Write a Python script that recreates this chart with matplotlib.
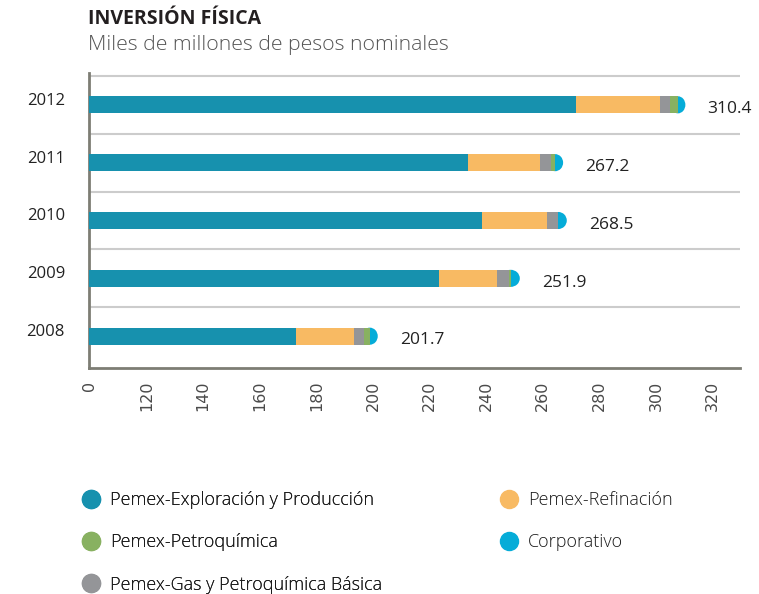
import numpy as np
import matplotlib.pyplot as plt
import matplotlib.transforms as mtransforms
from matplotlib.patches import Ellipse
from matplotlib.lines import Line2D

years = ['2008', '2009', '2010', '2011', '2012']
totals = [201.7, 251.9, 268.5, 267.2, 310.4]
exploracion = [172.9, 223.4, 238.5, 233.7, 271.7]
refinacion = [20.4, 20.4, 22.9, 25.4, 29.9]
gas = [3.5, 4.2, 3.9, 3.9, 3.5]
petroquimica = [2.1, 0.7, 0.2, 1.4, 2.7]
corporativo = [2.8, 3.2, 3.0, 2.8, 2.6]

x_ticks = [100, 120, 140, 160, 180, 200, 220, 240, 260, 280, 300, 320]
x_tick_labels = ['0', '120', '140', '160', '180', '200', '220', '240', '260', '280', '300', '320']

c_exp = '#1791ae'
c_ref = '#f8ba63'
c_gas = '#949598'
c_pet = '#88b161'
c_cor = '#05acd8'

plt.rcParams['font.family'] = ['Open Sans', 'DejaVu Sans']

fig = plt.figure(figsize=(7.59, 5.94), dpi=100)
ax = fig.add_axes([88.5 / 759, 1 - 368 / 594, (740 - 88.5) / 759, (368 - 73) / 594])

y = np.arange(len(years))
h = 0.295

ax.barh(y, exploracion, height=h, color=c_exp, zorder=3)
left = np.array(exploracion)
ax.barh(y, refinacion, left=left, height=h, color=c_ref, zorder=3)
left = left + np.array(refinacion)
ax.barh(y, gas, left=left, height=h, color=c_gas, zorder=3)
left = left + np.array(gas)
ax.barh(y, petroquimica, left=left, height=h, color=c_pet, zorder=3)
left = left + np.array(petroquimica)

# corporativo drawn as a rounded cap at the end of each bar
for yi, l, c in zip(y, left, corporativo):
    ax.add_patch(Ellipse((l, yi), 2 * c, h, color=c_cor, zorder=2, lw=0))

for yi, t in zip(y, totals):
    ax.annotate(f'{t:.1f}', (t, yi), xytext=(16, -3), textcoords='offset points',
                ha='left', va='center', fontsize=12.5, color='#222222')

ax.set_xlim(99.5, 329.7)
ax.set_ylim(-0.55, 4.55)

ax.set_xticks(x_ticks)
ax.set_xticklabels(x_tick_labels, rotation=90, fontsize=11.5, color='#4a4a4a',
                   family='DejaVu Sans', va='top')
ax.tick_params(axis='x', length=0, pad=9)

ax.set_yticks(y)
ax.set_yticklabels(years, fontsize=12, color='#222222')
ax.tick_params(axis='y', length=0, pad=17)
shift = mtransforms.ScaledTranslation(0, 6 / 100, fig.dpi_scale_trans)
for lab in ax.get_yticklabels():
    lab.set_transform(lab.get_transform() + shift)

ax.set_yticks(y + 0.5, minor=True)
ax.tick_params(axis='y', which='minor', length=0)
ax.grid(axis='y', which='minor', color='#cccccc', lw=1.5, zorder=0)

for s in ['top', 'right']:
    ax.spines[s].set_visible(False)
for s in ['left', 'bottom']:
    ax.spines[s].set_color('#7d7d74')
    ax.spines[s].set_linewidth(2)

fig.text(88 / 759, 1 - 19 / 594, 'INVERSIÓN FÍSICA', fontsize=14, fontweight='bold',
         color='#231f20', va='center', ha='left')
fig.text(88 / 759, 1 - 45 / 594, 'Miles de millones de pesos nominales', fontsize=15.3,
         color='#555555', va='center', ha='left', fontweight='light')

def handle(c):
    return Line2D([], [], marker='o', ls='', markersize=13, markerfacecolor=c,
                  markeredgecolor=c)

leg_font = {'size': 13, 'weight': 'light'}
leg1 = fig.legend([handle(c_exp), handle(c_pet), handle(c_gas)],
                  ['Pemex-Exploración y Producción', 'Pemex-Petroquímica',
                   'Pemex-Gas y Petroquímica Básica'],
                  loc='upper left', bbox_to_anchor=(80 / 759, 1 - 491 / 594),
                  frameon=False, prop=leg_font, labelspacing=1.35, handletextpad=0.45,
                  handlelength=1.2, borderaxespad=0, borderpad=0, labelcolor='#1a1a1a')
fig.add_artist(leg1)
fig.legend([handle(c_ref), handle(c_cor)], ['Pemex-Refinación', 'Corporativo'],
           loc='upper left', bbox_to_anchor=(498 / 759, 1 - 491 / 594),
           frameon=False, prop=leg_font, labelspacing=1.35, handletextpad=0.45,
           handlelength=1.2, borderaxespad=0, borderpad=0, labelcolor='#1a1a1a')

fig.savefig('out.png', dpi=100)
